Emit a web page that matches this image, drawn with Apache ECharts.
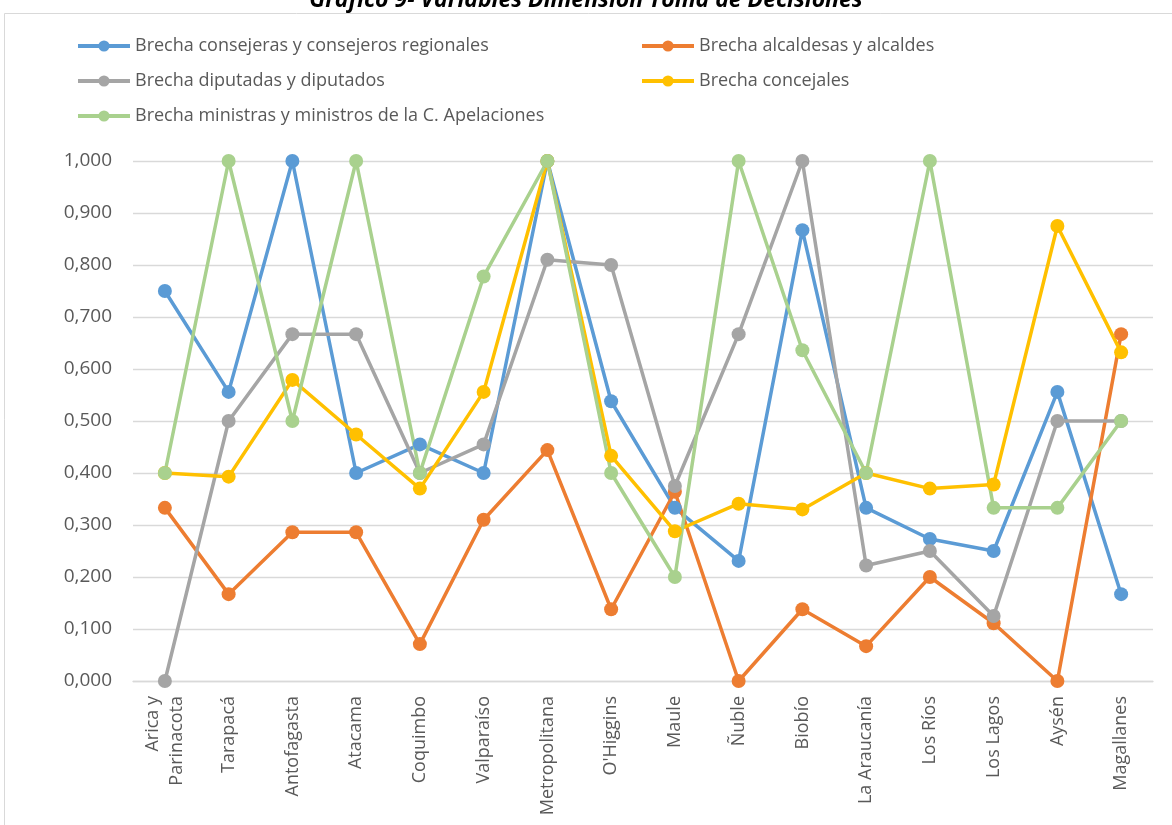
<!DOCTYPE html>
<html>
<head>
    <meta charset="utf-8">
    <title>Gráfico 9</title>
    <script src="https://cdn.jsdelivr.net/npm/echarts@6/dist/echarts.min.js"></script>
    <style>
        html, body { margin: 0; padding: 0; background: #fff; }
    </style>
</head>
<body>
<div id="main" style="width: 1172px; height: 825px;"></div>
<script type="text/javascript">
    // regiones (eje X)
    var regiones = ['Arica y\nParinacota', 'Tarapacá', 'Antofagasta', 'Atacama', 'Coquimbo', 'Valparaíso',
        'Metropolitana', "O'Higgins", 'Maule', 'Ñuble', 'Biobío', 'La Araucanía', 'Los Ríos', 'Los Lagos',
        'Aysén', 'Magallanes'];

    var consejeros = [0.750, 0.556, 1.000, 0.400, 0.455, 0.400, 1.000, 0.538, 0.333, 0.231, 0.867, 0.333, 0.273, 0.250, 0.556, 0.167];
    var alcaldes = [0.333, 0.167, 0.286, 0.286, 0.071, 0.310, 0.444, 0.138, 0.364, 0.000, 0.138, 0.067, 0.200, 0.111, 0.000, 0.667];
    var diputados = [0.000, 0.500, 0.667, 0.667, 0.400, 0.455, 0.810, 0.800, 0.375, 0.667, 1.000, 0.222, 0.250, 0.125, 0.500, 0.500];
    var concejales = [0.400, 0.393, 0.579, 0.474, 0.370, 0.556, 1.000, 0.433, 0.288, 0.341, 0.330, 0.400, 0.370, 0.378, 0.875, 0.632];
    var ministros = [0.400, 1.000, 0.500, 1.000, 0.400, 0.778, 1.000, 0.400, 0.200, 1.000, 0.636, 0.400, 1.000, 0.333, 0.333, 0.500];

    var nombres = [
        'Brecha consejeras y consejeros regionales',
        'Brecha alcaldesas y alcaldes',
        'Brecha diputadas y diputados',
        'Brecha concejales',
        'Brecha ministras y ministros de la C. Apelaciones'
    ];
    var colores = ['#5B9BD5', '#ED7D31', '#A5A5A5', '#FFC000', '#A9D18E'];
    var datos = [consejeros, alcaldes, diputados, concejales, ministros];

    var fuente = '"Open Sans", "Liberation Sans", sans-serif';
    var myChart = echarts.init(document.getElementById('main'));

    var series = [];
    for (var i = 0; i < datos.length; i++) {
        series.push({
            name: nombres[i],
            type: 'line',
            data: datos[i],
            symbol: 'circle',
            symbolSize: 14,
            lineStyle: { width: 3.5, color: colores[i] },
            itemStyle: { color: colores[i] },
            animation: false
        });
    }

    var legendComun = {
        orient: 'vertical',
        itemWidth: 52,
        itemHeight: 14,
        itemGap: 17,
        lineStyle: { width: 4 },
        textStyle: { color: '#595959', fontSize: 18, fontFamily: fuente },
        selectedMode: false
    };

    var option = {
        backgroundColor: '#fff',
        title: {
            text: 'Gráfico 9- Variables Dimensión Toma de Decisiones',
            left: 'center',
            top: -16,
            textStyle: { fontSize: 23, fontWeight: 'bold', fontStyle: 'italic', color: '#000', fontFamily: fuente }
        },
        graphic: [{
            type: 'rect',
            shape: { x: 4.5, y: 13.5, width: 1180, height: 830 },
            style: { fill: 'none', stroke: '#d9d9d9', lineWidth: 1 },
            silent: true
        }],
        legend: [
            Object.assign({}, legendComun, { left: 71, top: 32, data: [nombres[0], nombres[2], nombres[4]] }),
            Object.assign({}, legendComun, { left: 635, top: 32, data: [nombres[1], nombres[3]] })
        ],
        grid: { left: 133, right: 19, top: 161, bottom: 144 },
        xAxis: {
            type: 'category',
            data: regiones,
            boundaryGap: true,
            axisLine: { lineStyle: { color: '#d9d9d9', width: 1.3 } },
            axisTick: { show: false },
            axisLabel: {
                rotate: 90,
                interval: 0,
                margin: 15,
                color: '#595959',
                fontSize: 18,
                fontFamily: fuente,
                lineHeight: 24
            }
        },
        yAxis: {
            type: 'value',
            min: 0,
            max: 1,
            interval: 0.1,
            axisLine: { show: false },
            axisTick: { show: false },
            splitLine: { lineStyle: { color: '#d9d9d9', width: 1.3 } },
            axisLabel: {
                color: '#595959',
                fontSize: 19,
                fontFamily: fuente,
                margin: 21,
                formatter: function (v) { return v.toFixed(3).replace('.', ','); }
            }
        },
        series: series
    };

    myChart.setOption(option);
</script>
</body>
</html>
